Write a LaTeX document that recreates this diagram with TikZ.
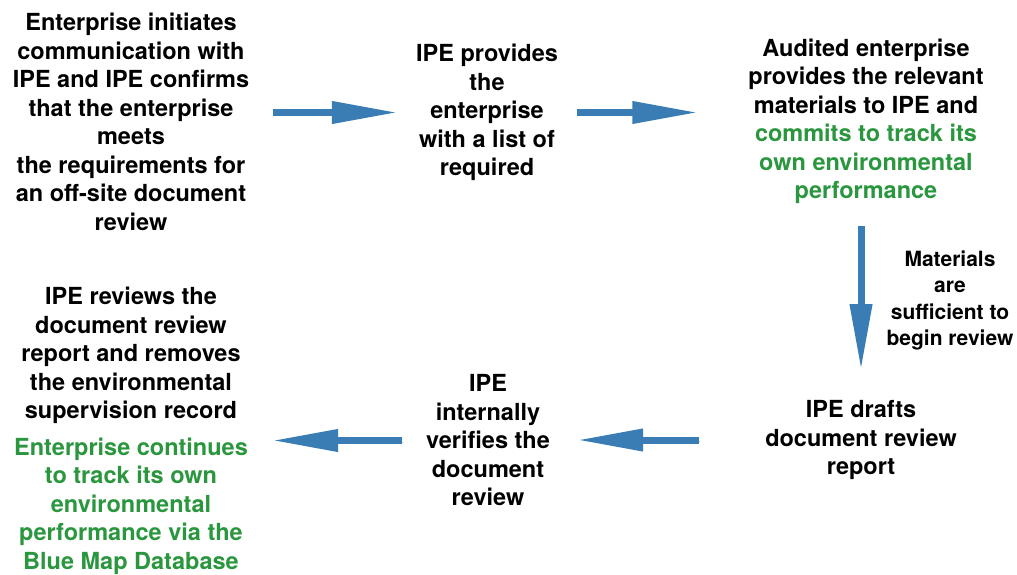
\documentclass[tikz,border=0pt]{standalone}
\usepackage{xcolor}
\usepackage{fontspec}
\setmainfont{TeX Gyre Heros}
\usetikzlibrary{arrows.meta,calc,positioning}
\definecolor{flowblue}{RGB}{58,125,180}
\definecolor{notegreen}{RGB}{42,150,62}
\begin{document}
\begin{tikzpicture}[x=1pt,y=-1pt]
		\tikzstyle{every node}=[inner sep=0pt, align=center, font=\fontsize{23.5}{28.5}\selectfont\bfseries]
		\tikzstyle{flow}=[line width=7pt, flowblue, -{Triangle[length=66pt,width=21pt]},
			preaction={draw=black, opacity=0.25, transform canvas={shift={(1pt,-1.5pt)}}}]
		\tikzstyle{small}=[font=\fontsize{21}{26.5}\selectfont\bfseries]
		\useasboundingbox (0,0) rectangle (1017,574);
		\node (enterprise) at (131,122) {Enterprise initiates\\communication with\\IPE and IPE confirms\\that the enterprise\\meets\\the requirements for\\an off-site document\\review};
		\node (provides) at (487,112.5) {IPE provides\\the\\enterprise\\with a list of\\required};
		\node (audited) at (866,121.5) {Audited enterprise\\provides the relevant\\materials to IPE and\\\color{notegreen}commits to track its\\\color{notegreen}own environmental\\\color{notegreen}performance};
		\node (drafts) at (861,440) {IPE drafts\\document review\\report};
		\node (verifies) at (488,440.5) {IPE\\internally\\verifies the\\document\\review};
		\node (removes) at (131,431) {IPE reviews the\\document review\\report and removes\\the environmental\\supervision record\\[8pt]\color{notegreen}Enterprise continues\\\color{notegreen}to track its own\\\color{notegreen}environmental\\\color{notegreen}performance via the\\\color{notegreen}Blue Map Database};
		\node [small] (sufficient) at (950,300.5) {Materials\\are\\sufficient to\\begin review};
		\draw [flow, shorten <=24pt, shorten >=18pt] (enterprise.east |- provides.west) -- (provides.west);
		\draw [flow, shorten <=19pt, shorten >=50pt] (provides.east) -- (audited.west |- provides.east);
		\draw [flow, shorten <=22pt, shorten >=30pt] (audited.south -| drafts.north) -- (drafts.north);
		\draw [flow, shorten <=66pt, shorten >=27pt] (drafts.west) -- (verifies.east |- drafts.west);
		\draw [flow, shorten <=24pt, shorten >=24pt] (verifies.west) -- (removes.east |- verifies.west);
	\end{tikzpicture}
\end{document}
